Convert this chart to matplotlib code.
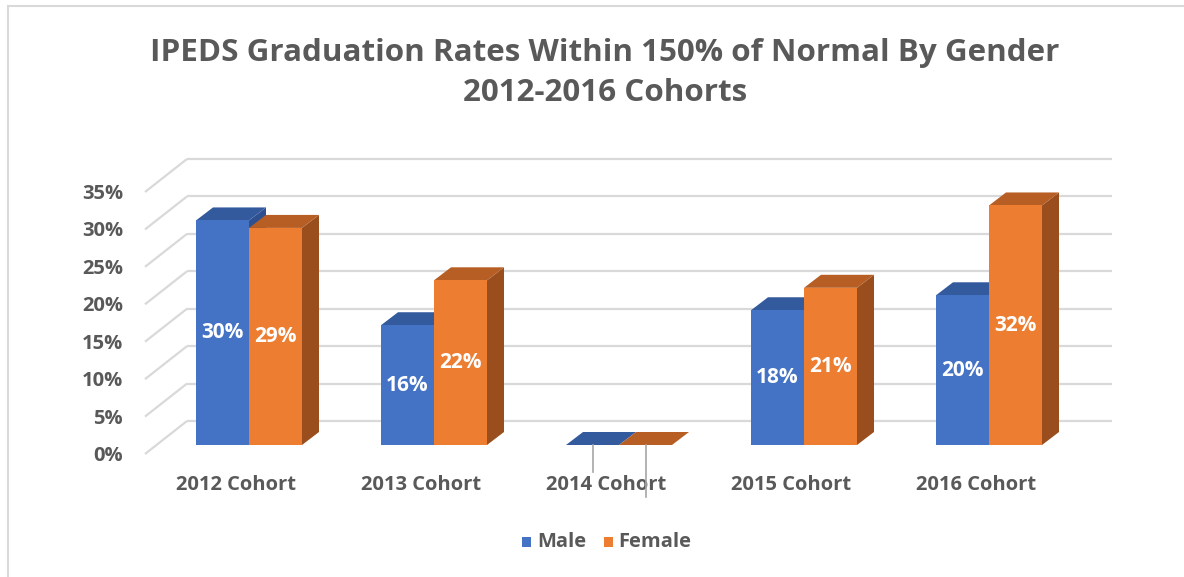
import matplotlib
matplotlib.use("Agg")
import matplotlib.pyplot as plt
from matplotlib.patches import Polygon, Patch
from matplotlib import transforms

# chart data
cohorts = ['2012 Cohort', '2013 Cohort', '2014 Cohort', '2015 Cohort', '2016 Cohort']
male = [30, 16, 0, 18, 20]
female = [29, 22, 0, 21, 32]
y_ticks = [0, 5, 10, 15, 20, 25, 30, 35]

plt.rcParams['font.family'] = ['Open Sans', 'DejaVu Sans']
TXT = '#595959'
BLUE, BLUE_TOP, BLUE_SIDE = '#4472C4', '#335A9C', '#2E5090'
ORANGE, ORANGE_TOP, ORANGE_SIDE = '#ED7D31', '#B65E24', '#9A4E1D'
GRID = '#D9D9D9'

W, H = 1184, 577
fig = plt.figure(figsize=(W / 100, H / 100), dpi=100)

# axes placed in pixels: front plane 0% at y=454, 35% at y=192
ax_left, ax_bot, ax_w, ax_h = 145, H - 454, 925, 262
ax = fig.add_axes([ax_left / W, ax_bot / H, ax_w / W, ax_h / H])
ax.set_xlim(-0.5, 4.5)
ax.set_ylim(0, 35)
ax.axis('off')

sx = ax_w / 5.0       # px per category
sy = ax_h / 35.0      # px per percent

def px(dx, dy):
    return dx / sx, dy / sy

# back wall gridlines
wx, wy = px(42, 33)
for v in y_ticks:
    ax.plot([-0.5, -0.5 + wx], [v, v + wy], color=GRID, lw=1.6, clip_on=False,
            solid_capstyle='butt')
    ax.plot([-0.5 + wx, 4.5 + wx], [v + wy, v + wy], color=GRID, lw=1.6,
            clip_on=False, solid_capstyle='butt')

# bars sit a bit behind the front plane
fx, fy = px(11.5, 9)
bw = 53 / sx
ddx, ddy = px(17, 13)

def bar3d(x0, h, front, top, side, z):
    x1 = x0 + bw
    b = fy
    t = fy + h
    if h > 0:
        ax.add_patch(Polygon([(x1, b), (x1 + ddx, b + ddy), (x1 + ddx, t + ddy), (x1, t)],
                             closed=True, fc=side, ec='none', zorder=z, clip_on=False))
    ax.add_patch(Polygon([(x0, t), (x1, t), (x1 + ddx, t + ddy), (x0 + ddx, t + ddy)],
                         closed=True, fc=top, ec='none', zorder=z, clip_on=False))
    if h > 0:
        ax.add_patch(Polygon([(x0, b), (x1, b), (x1, t), (x0, t)],
                             closed=True, fc=front, ec='none', zorder=z, clip_on=False))

lab_font = dict(color='white', fontsize=15, fontweight='bold', ha='center', va='center')
for i in range(len(cohorts)):
    c = i + fx
    xm = c - bw
    xf = c
    bar3d(xm, male[i], BLUE, BLUE_TOP, BLUE_SIDE, 3 + 2 * i)
    bar3d(xf, female[i], ORANGE, ORANGE_TOP, ORANGE_SIDE, 4 + 2 * i)
    if male[i] > 0:
        ax.text(xm + bw / 2, fy + male[i] / 2, f'{male[i]}%', zorder=20, **lab_font)
    else:
        # leader line of the hidden label
        ax.plot([xm + bw / 2, xm + bw / 2], [fy, fy - 27 / sy], color='#A6A6A6',
                lw=1.2, zorder=20, clip_on=False)
    if female[i] > 0:
        ax.text(xf + bw / 2, fy + female[i] / 2, f'{female[i]}%', zorder=20, **lab_font)
    else:
        ax.plot([xf + bw / 2, xf + bw / 2], [fy, fy - 52 / sy], color='#A6A6A6',
                lw=1.2, zorder=20, clip_on=False)

# category labels
cat_tr = transforms.offset_copy(ax.transData, fig=fig, x=-1, y=-31, units='dots')
for i, name in enumerate(cohorts):
    ax.text(i, 0, name, transform=cat_tr, ha='center', va='center', color=TXT,
            fontsize=14.5, fontweight='bold', zorder=1)

# y tick labels
tick_tr = transforms.offset_copy(ax.transData, fig=fig, x=-22, y=-2, units='dots')
for v in y_ticks:
    ax.text(-0.5, v, f'{v}%', transform=tick_tr, ha='right', va='center', color=TXT,
            fontsize=14.5, fontweight='bold')

# title
fig.text(605 / W, 1 - 73 / H, 'IPEDS Graduation Rates Within 150% of Normal By Gender\n2012-2016 Cohorts',
         ha='center', va='center', color=TXT, fontsize=22.6, fontweight='bold', linespacing=1.42)

# legend
handles = [Patch(fc=BLUE, ec='none', label='Male'), Patch(fc=ORANGE, ec='none', label='Female')]
leg = fig.legend(handles=handles, loc='center', bbox_to_anchor=(607 / W, 1 - 542 / H), ncol=2,
                 frameon=False, handlelength=0.65, handleheight=0.65, handletextpad=0.4,
                 columnspacing=1.3)
for t in leg.get_texts():
    t.set_color(TXT)
    t.set_fontsize(14.5)
    t.set_fontweight('bold')

# chart border (left and top)
fig.add_artist(plt.Line2D([8 / W, 8 / W], [0, 1 - 6 / H], color=GRID, lw=1.5))
fig.add_artist(plt.Line2D([8 / W, 1], [1 - 6 / H, 1 - 6 / H], color=GRID, lw=1.5))

fig.savefig('out.png', dpi=100, facecolor='white')
